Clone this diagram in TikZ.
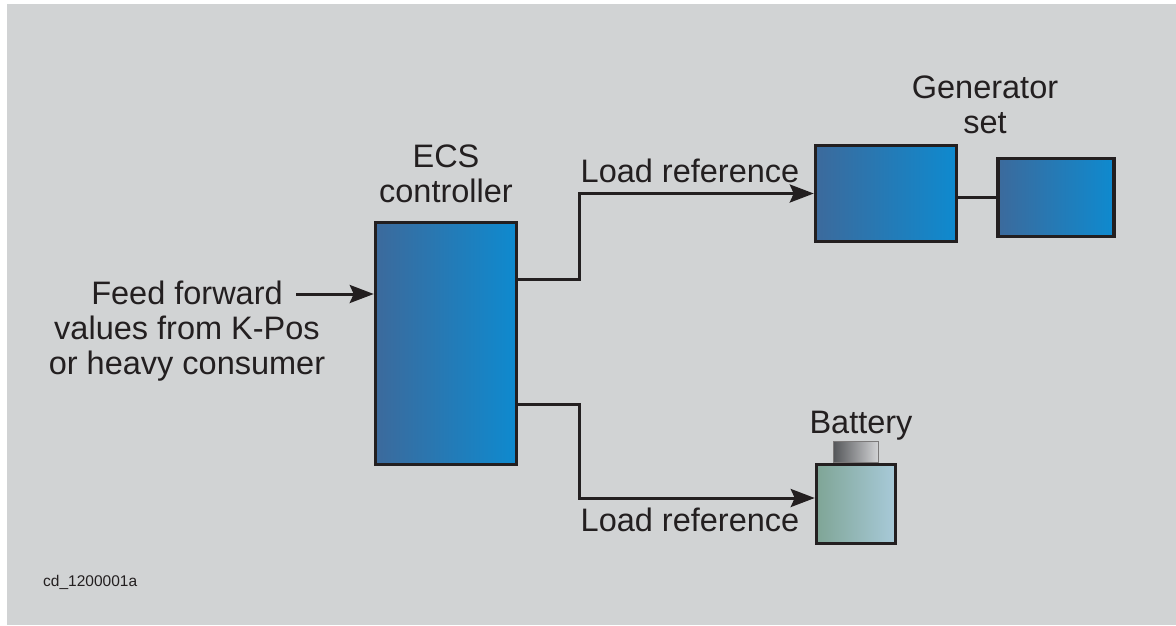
\documentclass[tikz,border=0pt]{standalone}
\usepackage{fontspec}
\setmainfont{Liberation Sans}
\usetikzlibrary{arrows.meta,positioning}
\definecolor{EcsBack}{HTML}{D1D3D4}
\definecolor{EcsInk}{HTML}{231F20}
\definecolor{EcsDark}{HTML}{3C6A9C}
\definecolor{EcsLight}{HTML}{0E8ACF}
\definecolor{BatGreen}{HTML}{7FA596}
\definecolor{BatBlue}{HTML}{A8CAD9}
\definecolor{CapDark}{HTML}{55575A}
\definecolor{CapLight}{HTML}{D3D4D6}
\tikzset{
  bluebox/.style={draw=EcsInk,line width=3.5pt,left color=EcsDark,right color=EcsLight,inner sep=0pt},
  batbox/.style={draw=EcsInk,line width=3.5pt,left color=BatGreen,right color=BatBlue,inner sep=0pt},
  capbox/.style={draw=EcsInk!60,line width=0.8pt,left color=CapDark,right color=CapLight,inner sep=0pt},
  biglabel/.style={font=\fontsize{32.5}{35}\selectfont,text=EcsInk,align=center,inner sep=0pt},
  flowarrow/.style={-{Stealth[length=24pt,width=18pt,inset=4pt]},line width=3pt,draw=EcsInk},
  flowline/.style={line width=3pt,draw=EcsInk}
}
\begin{document}
\begin{tikzpicture}[x=1pt,y=-1pt]
\useasboundingbox (0,0) rectangle (1176,625);
\fill[white] (0,0) rectangle (1176,625);
\fill[EcsBack] (7,4) rectangle (1176,625);
% blocks
\node[bluebox,minimum width=141pt,minimum height=242pt] (ecs) at (446,343.5) {};
\node[bluebox,minimum width=141pt,minimum height=96pt] (gen) at (886,193.5) {};
\node[bluebox,minimum width=116pt,minimum height=78pt,right=38pt of gen,yshift=-4pt] (genb) {};
\node[batbox,minimum width=79pt,minimum height=79pt] (bat) at (856,504) {};
\node[capbox,minimum width=45pt,minimum height=21pt,above=0pt of bat] (batcap) {};
% labels
\node[biglabel,anchor=south] (ecslabel) at (446,203) {ECS\\controller};
\node[biglabel,anchor=south] (genlabel) at (985,134) {Generator\\set};
\node[biglabel,anchor=base] (batlabel) at (861,433) {Battery};
\node[biglabel,anchor=base] (loadup) at (690,182) {Load reference};
\node[biglabel,anchor=base] (loaddown) at (690,531) {Load reference};
\node[biglabel] (feed) at (187,331) {Feed forward\\values from K-Pos\\or heavy consumer};
\node[font=\fontsize{15.5}{18}\selectfont,text=EcsInk,anchor=west,inner sep=0pt] (code) at (43,582) {cd\_1200001a};
% connectors
\coordinate (feedtail) at (296,294);
\draw[flowarrow] (feedtail) -- (ecs.west |- feedtail);
\draw[flowarrow] ([yshift=64.5pt]ecs.east) -- ++(61,0) |- (gen.west);
\draw[flowarrow] ([yshift=-60.5pt]ecs.east) -- ++(61,0) |- ([yshift=6pt]bat.west);
\draw[flowline] (genb.west -| gen.east) -- (genb.west);
\end{tikzpicture}
\end{document}
